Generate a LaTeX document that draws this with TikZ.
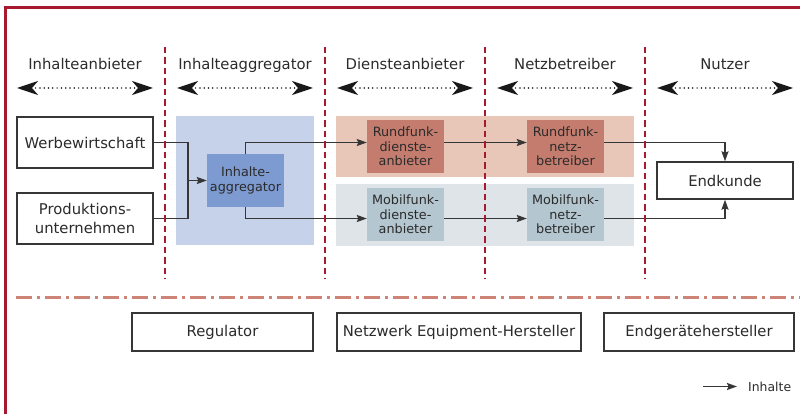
\documentclass[tikz,border=0pt]{standalone}
\usepackage{fontspec}
\setmainfont{DejaVu Sans}
\usetikzlibrary{arrows.meta}

\definecolor{framered}{HTML}{A6192E}
\definecolor{dashdotred}{HTML}{CD8376}
\definecolor{txt}{HTML}{2B2B2B}
\definecolor{lineg}{HTML}{363636}
\definecolor{bandblue}{HTML}{C5D2E9}
\definecolor{aggblue}{HTML}{7D9BD0}
\definecolor{bandpink}{HTML}{E8C6B8}
\definecolor{rundfunk}{HTML}{C37C6E}
\definecolor{bandgray}{HTML}{DFE4E9}
\definecolor{mobilfunk}{HTML}{B4C6CF}

\begin{document}
\begin{tikzpicture}[x=1pt,y=-1pt,
  hdr/.style={font=\fontsize{14.8}{17}\selectfont, text=txt, anchor=base, inner sep=0pt},
  wbox/.style={draw=lineg, line width=1.4pt, fill=white, text=txt, align=center,
    inner sep=0pt, font=\fontsize{14.8}{19}\selectfont},
  cbox/.style={inner sep=0pt, align=center, text=txt,
    font=\fontsize{12.8}{14.5}\selectfont, minimum width=77pt, minimum height=53pt},
  conn/.style={draw=lineg, line width=1.6pt},
  tip/.style={-{Stealth[length=10pt,width=7pt,inset=1.5pt]}},
  divider/.style={draw=framered, line width=2.8pt, dash pattern=on 6.5pt off 4pt},
  span/.style={draw=black!90, line width=1.7pt, line cap=round, dash pattern=on 0pt off 4.3pt,
    {Stealth[length=21pt,width=14pt,inset=6pt]}-{Stealth[length=21pt,width=14pt,inset=6pt]}},
  legendtxt/.style={font=\fontsize{12.4}{14}\selectfont, text=txt, anchor=west, inner sep=0pt}
]
\useasboundingbox (0,0) rectangle (800,414);

% outer frame (open to the right and bottom)
\draw[framered, line width=2.6pt] (5.5,414) -- (5.5,7.5) -- (800,7.5);

% column headings with their span arrows
\foreach \cx/\name/\lbl in {85/c1/Inhalteanbieter, 245/c2/Inhalteaggregator,
    405/c3/Diensteanbieter, 565/c4/Netzbetreiber, 725/c5/Nutzer}{
  \node[hdr] (\name) at (\cx,69.5) {\lbl};
  \coordinate (\name l) at (\cx-68,88);
  \coordinate (\name r) at (\cx+68,88);
  \draw[span] (\name l) -- (\name r);
}

% background bands
\fill[bandblue] (176,116) rectangle (314,245);
\fill[bandpink] (336,116) rectangle (634,177);
\fill[bandgray] (336,184) rectangle (634,246);

% content sources
\node[wbox, minimum width=136pt, minimum height=51pt] (ww) at (85,142.5) {Werbewirtschaft};
\node[wbox, minimum width=136pt, minimum height=51pt] (pu) at (85,218.5) {Produktions-\\unternehmen};

% aggregator and service chains
\node[cbox, fill=aggblue] (agg) at (245.5,180.5) {Inhalte-\\aggregator};
\node[cbox, fill=rundfunk] (rd) at (405.5,146.5) {Rundfunk-\\dienste-\\anbieter};
\node[cbox, fill=rundfunk] (rn) at (565.5,146.5) {Rundfunk-\\netz-\\betreiber};
\node[cbox, fill=mobilfunk] (md) at (405.5,214.5) {Mobilfunk-\\dienste-\\anbieter};
\node[cbox, fill=mobilfunk] (mn) at (565.5,214.5) {Mobilfunk-\\netz-\\betreiber};

% end customer
\node[wbox, minimum width=136pt, minimum height=37pt] (ek) at (725,180.5) {Endkunde};

% row levels and junction
\coordinate (row1) at (0,142.5);
\coordinate (row2) at (0,218.5);
\coordinate (jn) at (188,180.5);

% content flow
\draw[conn] (ww.east) -| (jn) |- (pu.east);
\draw[conn, tip] (jn) -- (agg.west);
\draw[conn, tip] (agg.north) |- (rd.west |- row1);
\draw[conn, tip] (rd.east |- row1) -- (rn.west |- row1);
\draw[conn, tip] (rn.east |- row1) -| (ek.north);
\draw[conn, tip] (agg.south) |- (md.west |- row2);
\draw[conn, tip] (md.east |- row2) -- (mn.west |- row2);
\draw[conn, tip] (mn.east |- row2) -| (ek.south);

% column dividers
\foreach \x/\n in {165/d1, 325/d2, 485/d3, 645/d4}{
  \coordinate (\n t) at (\x,47);
  \coordinate (\n b) at (\x,279);
  \draw[divider] (\n t) -- (\n b);
}

% separator to the supporting actors
\coordinate (sepl) at (16,297.7);
\coordinate (sepr) at (800,297.7);
\draw[dashdotred, line width=2.6pt, dash pattern=on 16pt off 5pt on 3pt off 5pt] (sepl) -- (sepr);

% supporting actors
\node[wbox, minimum width=181pt, minimum height=38pt] (reg) at (222.5,332) {Regulator};
\node[wbox, minimum width=244pt, minimum height=38pt] (neh) at (459,332) {Netzwerk Equipment-Hersteller};
\node[wbox, minimum width=190pt, minimum height=38pt] (egh) at (699,332) {Endgerätehersteller};

% legend
\coordinate (lg1) at (703,386.5);
\coordinate (lg2) at (737,386.5);
\node[legendtxt] (lgt) at (748,386.5) {Inhalte};
\draw[conn, tip] (lg1) -- (lg2);
\end{tikzpicture}
\end{document}
